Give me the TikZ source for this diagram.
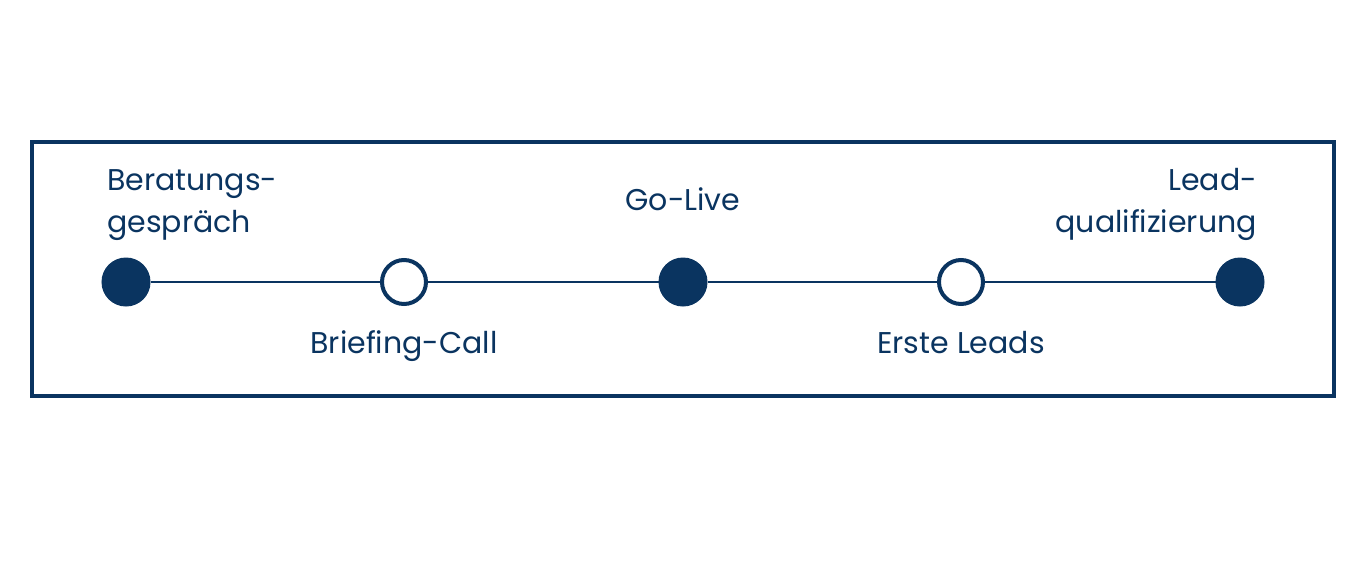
\documentclass[tikz,border=0pt]{standalone}
\usepackage{fontspec}
\setmainfont{Poppins}
\definecolor{navy}{RGB}{10,52,96}
\begin{document}
\begin{tikzpicture}[x=1pt,y=-1pt,
  full/.style={circle,fill=navy,draw=navy,line width=1pt,minimum size=48pt,inner sep=0pt},
  hollow/.style={circle,fill=white,draw=navy,line width=4pt,minimum size=44pt,inner sep=0pt},
  lbl/.style={text=navy,font=\fontsize{30}{42}\selectfont,inner sep=0pt},
  conn/.style={draw=navy,line width=2.5pt}]
\useasboundingbox (0,0) rectangle (1366,568);
\draw[navy,line width=4pt] (32,142) rectangle (1334,396);
\node[full] (s1) at (126,282) {};
\node[hollow] (s2) at (404,282) {};
\node[full] (s3) at (683,282) {};
\node[hollow] (s4) at (961,282) {};
\node[full] (s5) at (1240,282) {};
\draw[conn] (s1) -- (s2);
\draw[conn] (s2) -- (s3);
\draw[conn] (s3) -- (s4);
\draw[conn] (s4) -- (s5);
\node[lbl,anchor=base west,align=left] (t1) at (107,232) {Beratungs-\\gespräch};
\node[lbl,anchor=base] (t2) at (404,353) {Briefing-Call};
\node[lbl,anchor=base] (t3) at (683,210) {Go-Live};
\node[lbl,anchor=base] (t4) at (961,353) {Erste Leads};
\node[lbl,anchor=base east,align=right] (t5) at (1257,232) {Lead-\\qualifizierung};
\end{tikzpicture}
\end{document}
